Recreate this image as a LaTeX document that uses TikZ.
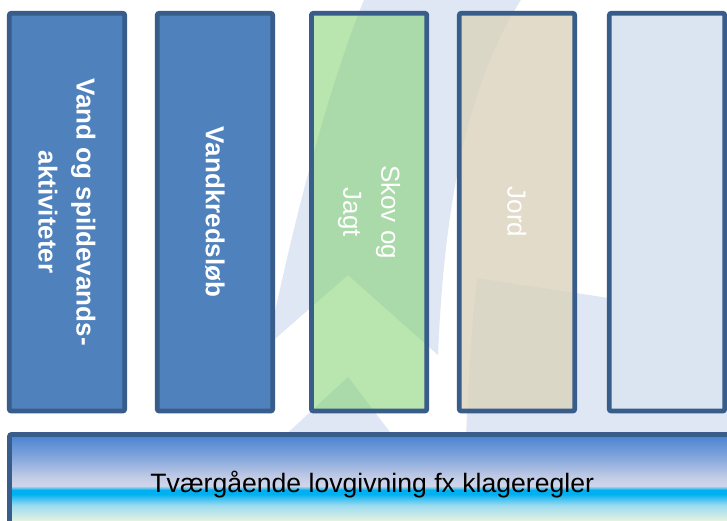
\documentclass[tikz,border=0pt]{standalone}
\usepackage{fontspec}
\setmainfont{Liberation Sans}
\usepackage{tikz}
\definecolor{edgeblue}{RGB}{56,93,138}
\definecolor{waterblue}{RGB}{79,129,189}
\definecolor{skovgreen}{RGB}{128,208,110}
\definecolor{jordbeige}{RGB}{219,211,189}
\definecolor{paleblue}{RGB}{219,229,241}
\definecolor{logoblue}{RGB}{222,231,243}
\definecolor{lovtop}{RGB}{78,134,209}
\definecolor{lovmid}{RGB}{125,162,219}
\definecolor{lovpale}{RGB}{195,205,230}
\definecolor{lovpaler}{RGB}{207,214,234}
\definecolor{lovcyan}{RGB}{0,176,240}
\definecolor{lovlight}{RGB}{155,218,240}
\definecolor{lovfoot}{RGB}{228,243,224}
\pgfdeclareverticalshading{lovshade}{100bp}{color(0bp)=(lovfoot); color(32bp)=(lovfoot);
  color(39.9bp)=(lovlight); color(45.4bp)=(lovcyan); color(47.4bp)=(lovcyan);
  color(49.4bp)=(lovpaler); color(53.4bp)=(lovpale); color(64.8bp)=(lovmid);
  color(73.8bp)=(lovtop); color(100bp)=(lovtop)}
\tikzset{%
	pillar/.style={draw=edgeblue, line width=4.8pt, rounded corners=2pt, rotate=-90,%
		minimum width=397.7pt, minimum height=115.4pt, inner sep=0pt,%
		text=white, align=center, font=\fontsize{26}{38}\selectfont},
	heavy/.style={font=\fontsize{26}{38}\selectfont\bfseries},
	seethru/.style={fill opacity=#1, text opacity=1},
	lovbar/.style={draw=edgeblue, line width=4.8pt, rounded corners=2pt, shade, shading=lovshade,%
		minimum width=725.5pt, minimum height=100.5pt, inner sep=0pt,%
		font=\fontsize{26.6}{32}\selectfont},
	logo/.style={fill=logoblue}
}

\begin{document}
\begin{tikzpicture}[x=1pt, y=1pt]
  \useasboundingbox[fill=white] (0,0) rectangle (727,-521);
  \fill[logo] (366,5) .. controls (335,-70) and (300,-190) .. (268,-345) -- (348,-275) -- (438,-355) .. controls (445,-180) and (475,-70) .. (524,5) -- cycle;
  \fill[logo] (348,-377) -- (396,-440) -- (280,-440) -- cycle;
  \fill[logo] (477,-278) -- (740,-318) -- (740,-440) -- (466,-440) .. controls (468,-380) and (472,-320) .. (477,-278) -- cycle;

  \node[pillar, heavy, fill=waterblue] (vand) at (67,-212.15) {Vand og spildevands-\\aktiviteter};
  \node[pillar, heavy, fill=waterblue] (kreds) at (214.95,-212.15) {Vandkredsløb};
  \node[pillar, fill=skovgreen, seethru=0.55] (skov) at (369.1,-212.15) {Skov og\\Jagt};
  \node[pillar, fill=jordbeige, seethru=0.8] (jord) at (517,-212.15) {Jord};
  \node[pillar, fill=paleblue] (tom) at (667,-212.15) {};
  \node[lovbar] (lov) at (372.25,-484.75) {Tværgående lovgivning fx klageregler};
\end{tikzpicture}
\end{document}
